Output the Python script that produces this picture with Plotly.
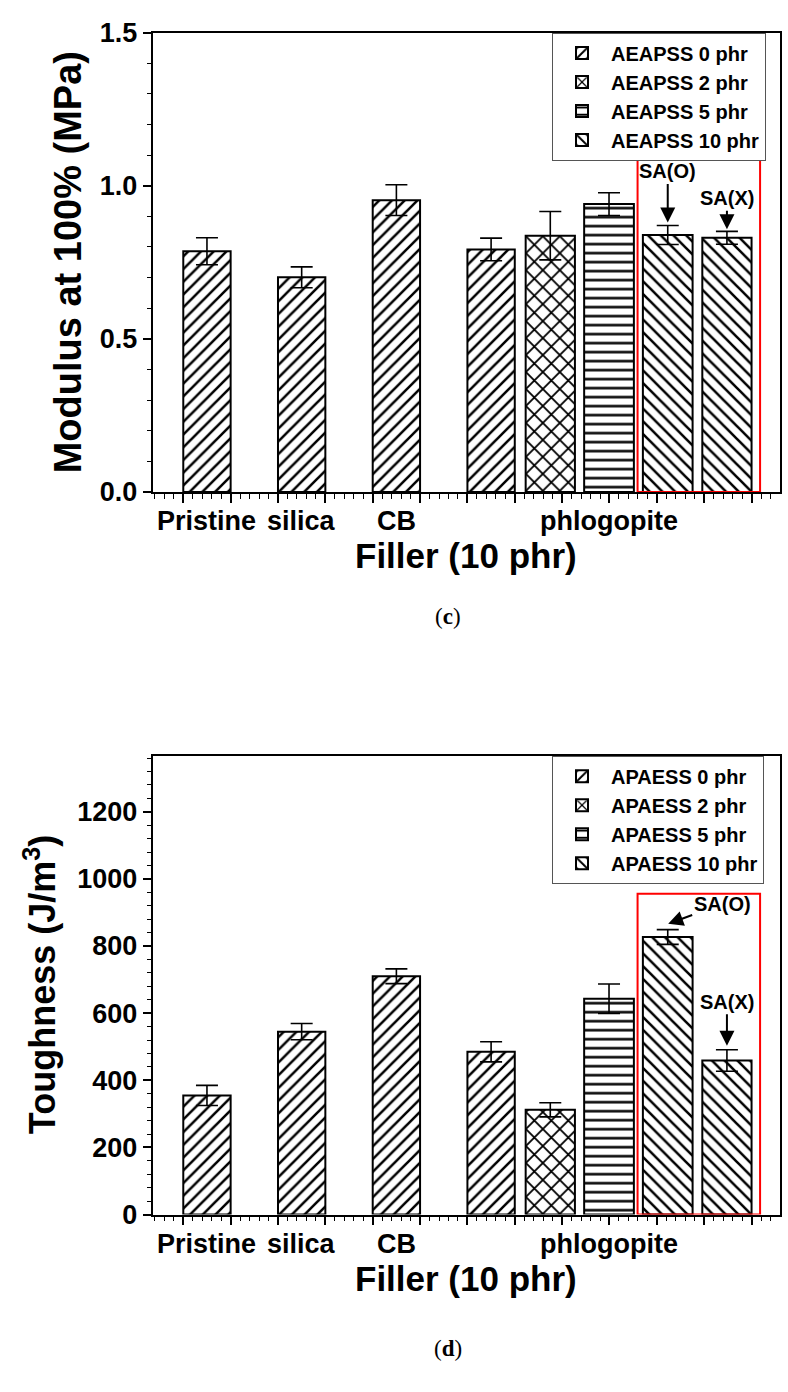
import plotly.graph_objects as go

# ---------------- data ----------------
samples = ["Pristine", "silica", "CB", "phlogopite 0", "phlogopite 2",
           "phlogopite 5", "phlogopite 10 SA(O)", "phlogopite 10 SA(X)"]
loading = [0, 0, 0, 0, 2, 5, 10, 10]          # coupling agent loading (phr)
category_labels = ["Pristine", "silica", "CB", "phlogopite"]

modulus = [0.786, 0.701, 0.953, 0.792, 0.837, 0.940, 0.839, 0.830]
modulus_err = [0.044, 0.034, 0.050, 0.037, 0.079, 0.037, 0.031, 0.021]

toughness = [355, 545, 710, 485, 312, 643, 827, 459]
toughness_err = [30, 24, 22, 30, 21, 44, 22, 32]

levels = [0, 2, 5, 10]
top_names = ["AEAPSS 0 phr", "AEAPSS 2 phr", "AEAPSS 5 phr", "AEAPSS 10 phr"]
bot_names = ["APAESS 0 phr", "APAESS 2 phr", "APAESS 5 phr", "APAESS 10 phr"]

# ---------------- layout helpers (positions / styles) ----------------
bar_x = [1.5, 3.5, 5.5, 7.5, 8.75, 9.99, 11.23, 12.48]
bar_w = [1.0, 1.0, 1.0, 1.0, 1.04, 1.05, 1.05, 1.04]
label_x = [1.5, 3.5, 5.5, (bar_x[3] + bar_x[-1]) / 2]
shapes_pat = {0: "/", 2: "x", 5: "-", 10: "\\"}
sizes_pat = {0: 9, 2: 12, 5: 9, 10: 9}

FONT = "Liberation Sans, Arial, sans-serif"

fig = go.Figure()


def add_panel(values, errs, names, xa, ya, legend):
    for lev, name in zip(levels, names):
        idx = [i for i, l in enumerate(loading) if l == lev]
        fig.add_trace(go.Bar(
            x=[bar_x[i] for i in idx],
            y=[values[i] for i in idx],
            width=[bar_w[i] for i in idx],
            name=name,
            legend=legend,
            xaxis=xa, yaxis=ya,
            marker=dict(color="white",
                        line=dict(color="black", width=2),
                        pattern=dict(shape=shapes_pat[lev], fgcolor="black",
                                     fgopacity=1, bgcolor="white",
                                     size=sizes_pat[lev], solidity=0.28)),
            error_y=dict(type="data", array=[errs[i] for i in idx],
                         color="black", thickness=1.6, width=11),
            hovertext=[samples[i] for i in idx],
        ))


add_panel(modulus, modulus_err, top_names, "x", "y", "legend")
add_panel(toughness, toughness_err, bot_names, "x2", "y2", "legend2")

W, H = 788, 1392
TOP_T, TOP_B = 18, 487.5        # px from top of page
BOT_T, BOT_B = 757, 1226
xdom = [152.5 / W, 779.5 / W]
ydom_top = [1 - TOP_B / H, 1 - TOP_T / H]
ydom_bot = [1 - BOT_B / H, 1 - BOT_T / H]

xcommon = dict(range=[0.35, 13.59], tickmode="linear", tick0=1, dtick=1,
               ticks="outside", ticklen=9, tickwidth=1.5, tickcolor="black",
               showticklabels=False, showline=True, linecolor="black",
               linewidth=1.5, mirror=True, showgrid=False, zeroline=False,
               domain=xdom,
               minor=dict(ticks="outside", ticklen=5, tickwidth=1.2,
                          tickcolor="black", dtick=0.2, tick0=1))
ycommon = dict(ticks="outside", ticklen=8, tickwidth=1.5, tickcolor="black",
               showline=True, linecolor="black", linewidth=1.5, mirror=True,
               showgrid=False, zeroline=False, ticklabeloverflow="allow",
               tickfont=dict(family=FONT, size=27, color="black", weight="bold"))

leg_common = dict(x=552 / W, xanchor="left", yanchor="top",
                  bgcolor="white", bordercolor="#555", borderwidth=1,
                  font=dict(family=FONT, size=20, color="black", weight="bold"),
                  itemwidth=48, tracegroupgap=0)

fig.update_layout(
    width=W, height=H,
    margin=dict(l=0, r=0, t=0, b=0),
    paper_bgcolor="white", plot_bgcolor="white",
    barmode="overlay",
    xaxis=dict(**xcommon, anchor="y"),
    yaxis=dict(**ycommon, domain=ydom_top, anchor="x", range=[0, 1.5],
               tick0=0, dtick=0.5, tickformat=".1f",
               minor=dict(ticks="outside", ticklen=4, tickwidth=1.2,
                          tickcolor="black", dtick=0.1)),
    xaxis2=dict(**xcommon, anchor="y2"),
    yaxis2=dict(**ycommon, domain=ydom_bot, anchor="x2", range=[0, 1367],
                tick0=0, dtick=200,
                minor=dict(ticks="outside", ticklen=4, tickwidth=1.2,
                           tickcolor="black", dtick=40)),
    legend=dict(**leg_common, y=1 - TOP_T / H),
    legend2=dict(**leg_common, y=1 - BOT_T / H),
)

# red highlight boxes around the SA(O)/SA(X) bars
fig.add_shape(type="rect", xref="x", yref="y", x0=10.593, x1=13.18, y0=0,
              y1=1.089, line=dict(color="red", width=2), layer="above")
fig.add_shape(type="rect", xref="x2", yref="y2", x0=10.593, x1=13.18, y0=0,
              y1=956, line=dict(color="red", width=2), layer="above")

ann_font = dict(family=FONT, size=20, color="black", weight="bold")

for xr, yr in (("x", "y"), ("x2", "y2")):
    for lx, lab in zip(label_x, category_labels):
        fig.add_annotation(x=lx, y=0, xref=xr, yref=yr + " domain", text=lab,
                           showarrow=False, yanchor="middle", yshift=-29.5,
                           font=dict(family=FONT, size=27, color="black",
                                     weight="bold"))
    fig.add_annotation(x=0.5, y=0, xref=xr + " domain", yref=yr + " domain",
                       text="Filler (10 phr)", showarrow=False,
                       yanchor="middle", yshift=-63.5,
                       font=dict(family=FONT, size=35, color="black",
                                 weight="bold"))

fig.add_annotation(x=68 / W, y=0.5, xref="paper", yref="y domain",
                   text="Modulus at 100% (MPa)", textangle=-90,
                   showarrow=False, xanchor="center", yanchor="middle",
                   font=dict(family=FONT, size=38, color="black", weight="bold"))
fig.add_annotation(x=40 / W, y=0.5, xref="paper", yref="y2 domain",
                   text="Toughness (J/m<sup>3</sup>)", textangle=-90,
                   showarrow=False, xanchor="center", yanchor="middle",
                   font=dict(family=FONT, size=36, color="black", weight="bold"))

cap_font = dict(family="Liberation Serif, DejaVu Serif, serif", size=23,
                color="black")
fig.add_annotation(x=448 / W, y=1 - 615 / H, xref="paper", yref="paper",
                   text="(<b>c</b>)", showarrow=False, font=cap_font)
fig.add_annotation(x=448 / W, y=1 - 1378 / H, xref="paper", yref="paper",
                   text="(<b>d</b>)", showarrow=False, font=cap_font)

arrow_kw = dict(showarrow=True, arrowhead=2, arrowsize=1.5, arrowwidth=2,
                arrowcolor="black", font=ann_font, standoff=0)
fig.add_annotation(x=bar_x[6], y=0.88, xref="x", yref="y", text="SA(O)",
                   ax=0, ay=-51, **arrow_kw)
fig.add_annotation(x=bar_x[7], y=0.858, xref="x", yref="y", text="SA(X)",
                   ax=0, ay=-31, **arrow_kw)
fig.add_annotation(x=bar_x[6] + 0.01, y=866, xref="x2", yref="y2",
                   text="SA(O)", ax=54, ay=-20, **arrow_kw)
fig.add_annotation(x=bar_x[7], y=503, xref="x2", yref="y2", text="SA(X)",
                   ax=0, ay=-44, **arrow_kw)

fig.write_html(
    "out.html",
    config={"displayModeBar": False},
    post_script="document.documentElement.style.margin='0';"
                "document.body.style.margin='0';"
                "document.body.style.overflow='hidden';",
)
